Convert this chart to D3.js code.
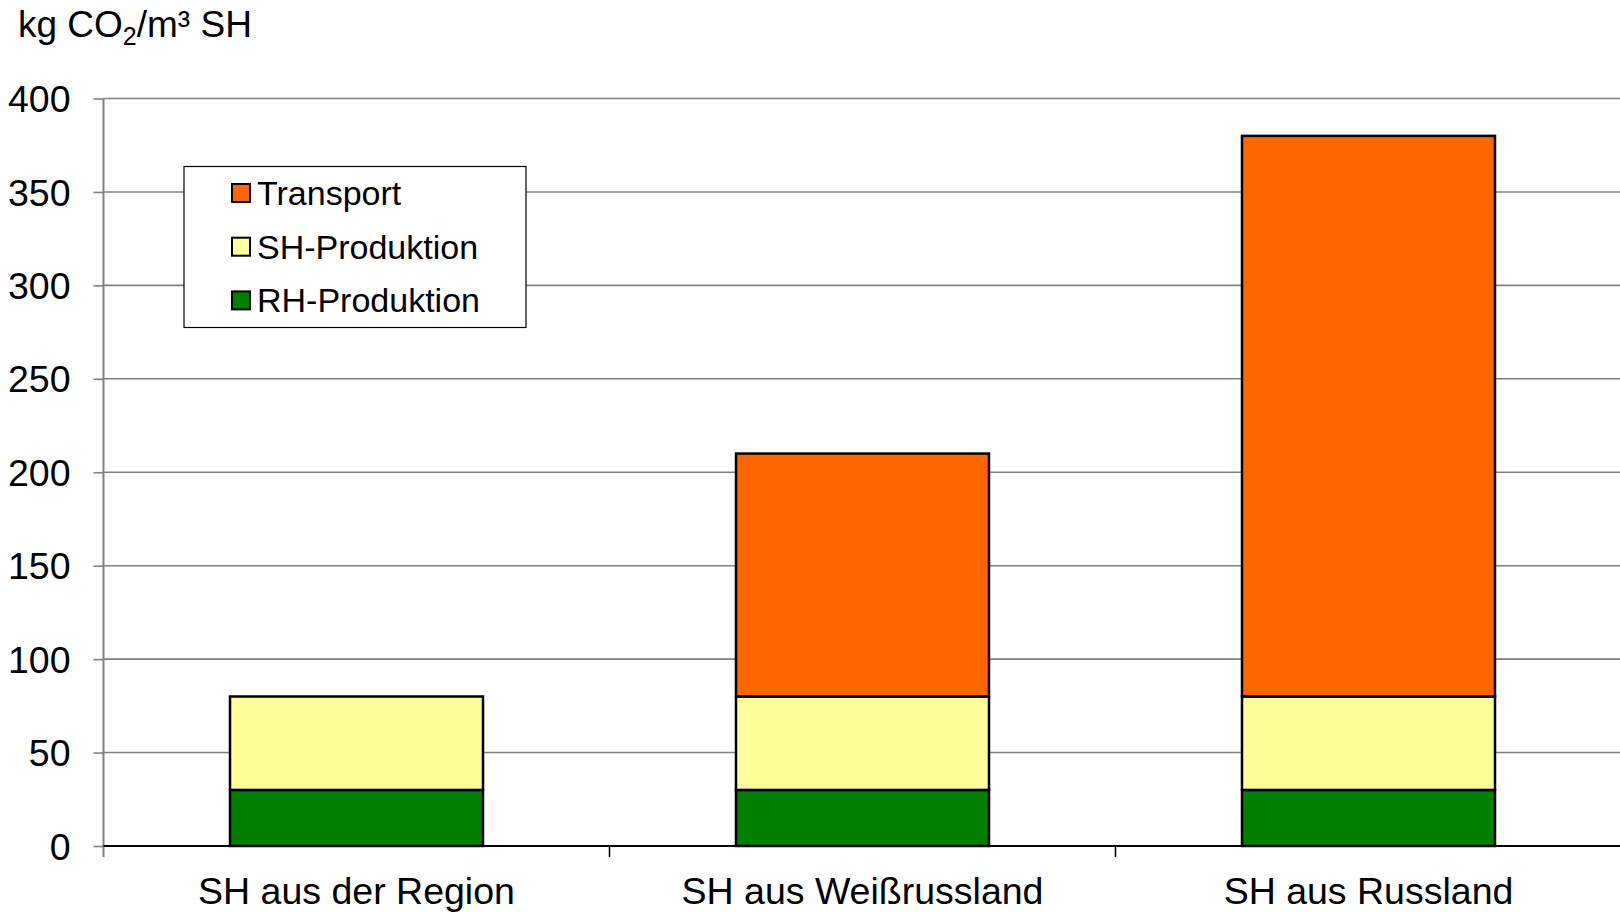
<html>
<style>
body { margin: 0; background: #fff; }
text { font-family: "Liberation Sans", Arial, sans-serif; fill: #000; }
</style>
<svg width="1620" height="912"></svg>
<script src="https://d3js.org/d3.v7.min.js"></script>
<script>

var categories = ["SH aus der Region", "SH aus Weißrussland", "SH aus Russland"];
var seriesNames = ["RH-Produktion", "SH-Produktion", "Transport"];
var rhValues = [30, 30, 30];
var shValues = [50, 50, 50];
var transportValues = [0, 130, 300];
var yTicks = [0, 50, 100, 150, 200, 250, 300, 350, 400];
var colors = {"RH-Produktion": "#008000", "SH-Produktion": "#FFFF99", "Transport": "#FF6600"};

var svg = d3.select("svg"),
    plotLeft = 103.5, plotRight = 1621.5, plotTop = 98.5, plotBottom = 846;

var rows = categories.map(function(c, i) {
  return {cat: c, "RH-Produktion": rhValues[i], "SH-Produktion": shValues[i], "Transport": transportValues[i]};
});

var x = d3.scaleBand()
    .domain(categories)
    .range([plotLeft, plotRight])
    .padding(0);

var y = d3.scaleLinear()
    .domain([0, 400])
    .range([plotBottom, plotTop]);

// grid
svg.append("g")
  .selectAll("line")
  .data(yTicks.filter(function(d) { return d > 0; }))
  .enter().append("line")
    .attr("x1", plotLeft).attr("x2", 1620)
    .attr("y1", function(d) { return y(d); })
    .attr("y2", function(d) { return y(d); })
    .attr("stroke", "#808080")
    .attr("stroke-width", 1.6);

// y axis
var yAxis = svg.append("g")
    .attr("transform", "translate(" + plotLeft + ",0)")
    .call(d3.axisLeft(y).tickValues(yTicks).tickSize(10).tickPadding(23));
yAxis.select(".domain").attr("stroke", "#808080").attr("stroke-width", 2)
    .attr("d", "M0," + plotTop + "V" + (plotBottom + 11));
yAxis.selectAll(".tick line").attr("stroke", "#808080").attr("stroke-width", 1.6);
yAxis.selectAll(".tick text").attr("font-size", 37.5)
    .attr("font-family", "Liberation Sans, Arial, sans-serif").attr("dy", "0.35em");

// stacked bars
var stack = d3.stack().keys(seriesNames)(rows);
var bw = x.bandwidth();

svg.append("g")
  .selectAll("g")
  .data(stack)
  .enter().append("g")
    .attr("fill", function(d) { return colors[d.key]; })
  .selectAll("rect")
  .data(function(d) { return d.filter(function(p) { return p[1] > p[0]; }); })
  .enter().append("rect")
    .attr("x", function(d) { return x(d.data.cat) + bw * 0.25; })
    .attr("width", bw * 0.5)
    .attr("y", function(d) { return y(d[1]); })
    .attr("height", function(d) { return y(d[0]) - y(d[1]); })
    .attr("stroke", "#000")
    .attr("stroke-width", 2.5);

// x axis
var xAxis = svg.append("g")
    .attr("transform", "translate(0," + plotBottom + ")");
xAxis.append("line")
    .attr("x1", plotLeft).attr("x2", 1620)
    .attr("stroke", "#000").attr("stroke-width", 1.8);
xAxis.selectAll("line.tk")
  .data(categories.slice(1))
  .enter().append("line")
    .attr("class", "tk")
    .attr("x1", function(d) { return x(d); })
    .attr("x2", function(d) { return x(d); })
    .attr("y1", 0).attr("y2", 11)
    .attr("stroke", "#000").attr("stroke-width", 1.5);
xAxis.selectAll("text")
  .data(categories)
  .enter().append("text")
    .attr("x", function(d) { return x(d) + bw / 2; })
    .attr("y", 58)
    .attr("text-anchor", "middle")
    .attr("font-size", 37.5)
    .text(function(d) { return d; });

// unit title
var title = svg.append("text")
    .attr("x", 18).attr("y", 37)
    .attr("font-size", 37);
title.append("tspan").text("kg CO");
title.append("tspan").attr("font-size", 25).attr("dy", 8).text("2");
title.append("tspan").attr("dy", -8).text("/m³ SH");

// legend
var legend = svg.append("g");
legend.append("rect")
    .attr("x", 184).attr("y", 166.5)
    .attr("width", 342).attr("height", 161)
    .attr("fill", "#fff").attr("stroke", "#000").attr("stroke-width", 1.2);

var legendOrder = ["Transport", "SH-Produktion", "RH-Produktion"];
var li = legend.selectAll("g.item")
  .data(legendOrder)
  .enter().append("g")
    .attr("class", "item")
    .attr("transform", function(d, i) { return "translate(0," + (193 + i * 53.7) + ")"; });
li.append("rect")
    .attr("x", 232).attr("y", -9)
    .attr("width", 18).attr("height", 18)
    .attr("fill", function(d) { return colors[d]; })
    .attr("stroke", "#000").attr("stroke-width", 2);
li.append("text")
    .attr("x", 257).attr("y", 0).attr("dy", "0.35em")
    .attr("font-size", 34)
    .text(function(d) { return d; });

</script>
</html>
